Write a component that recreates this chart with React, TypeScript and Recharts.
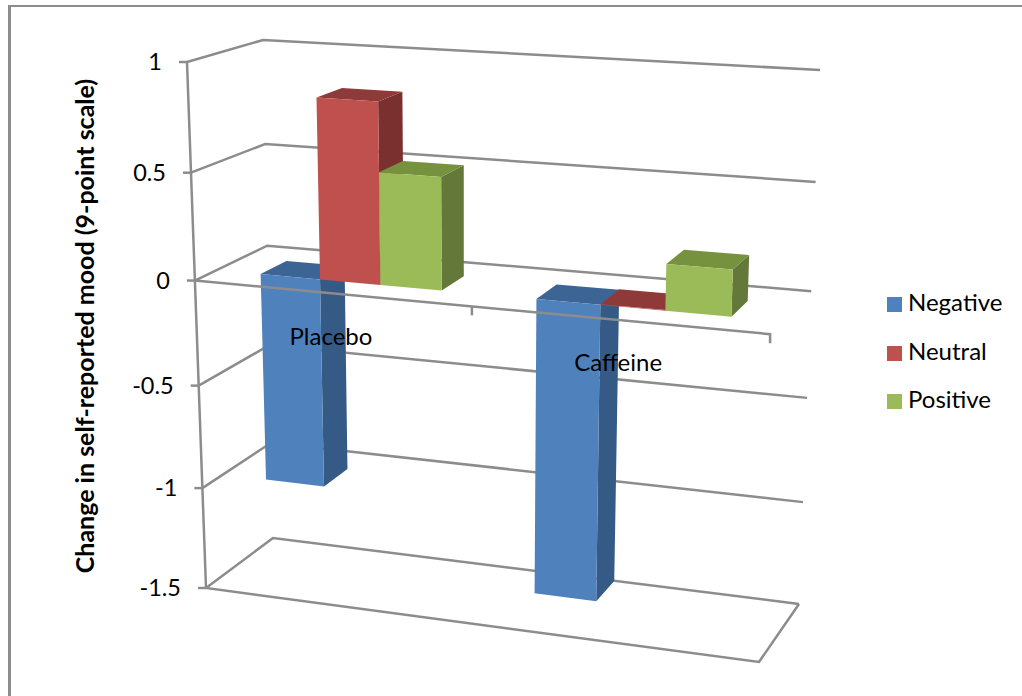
import React from 'react';
import {
  BarChart,
  Bar,
  XAxis,
  YAxis,
  CartesianGrid,
  Legend,
  ReferenceLine,
} from 'recharts';

const categories = ['Placebo', 'Caffeine'];
const negativeValues = [-1.0, -1.4];
const neutralValues = [0.84, 0.003];
const positiveValues = [0.52, 0.21];
const valueTicks = [1, 0.5, 0, -0.5, -1, -1.5];

const chartData = categories.map((name, i) => ({
  name,
  Negative: negativeValues[i],
  Neutral: neutralValues[i],
  Positive: positiveValues[i],
}));

const WIDTH = 1022;
const HEIGHT = 696;
const PLOT = { left: 100, top: 60, width: 722, height: 536 };
const GRID_COLOR = '#8c8c8c';
const FONT = 'Lato, sans-serif';

type Pt = [number, number];

// unit square -> quad, corners clockwise from top left
const makeHomography = ([p0, p1, p2, p3]: Pt[]) => {
  const dx1 = p1[0] - p2[0];
  const dx2 = p3[0] - p2[0];
  const sx = p0[0] - p1[0] + p2[0] - p3[0];
  const dy1 = p1[1] - p2[1];
  const dy2 = p3[1] - p2[1];
  const sy = p0[1] - p1[1] + p2[1] - p3[1];
  const den = dx1 * dy2 - dx2 * dy1;
  const g = (sx * dy2 - dx2 * sy) / den;
  const h = (dx1 * sy - sx * dy1) / den;
  const a = p1[0] - p0[0] + g * p1[0];
  const b = p3[0] - p0[0] + h * p3[0];
  const d = p1[1] - p0[1] + g * p1[1];
  const e = p3[1] - p0[1] + h * p3[1];
  return (u: number, v: number): Pt => {
    const q = g * u + h * v + 1;
    return [(a * u + b * v + p0[0]) / q, (d * u + e * v + p0[1]) / q];
  };
};

// front and back faces of the 3D box
const frontFace = makeHomography([[187, 62], [778, 100], [759, 662], [206, 588]]);
const backFace = makeHomography([[263, 40], [820, 70], [799, 604], [273, 538]]);

// flat chart coordinates + depth (0 front, 1 back) -> screen
const project = (x: number, y: number, depth: number): Pt => {
  const u = (x - PLOT.left) / PLOT.width;
  const v = (y - PLOT.top) / PLOT.height;
  const f = frontFace(u, v);
  const b = backFace(u, v);
  return [f[0] + (b[0] - f[0]) * depth, f[1] + (b[1] - f[1]) * depth];
};

const toPoints = (pts: Pt[]) => pts.map((p) => `${p[0]},${p[1]}`).join(' ');

const BAR_FRONT = 0.3;
const BAR_BACK = 0.67;

const Bar3D = (side: string, top: string) => (props: any) => {
  const { x, y, width, height, fill } = props;
  const y0 = Math.min(y, y + height);
  const y1 = Math.max(y, y + height);
  const x1 = x + width;
  const fTL = project(x, y0, BAR_FRONT);
  const fTR = project(x1, y0, BAR_FRONT);
  const fBR = project(x1, y1, BAR_FRONT);
  const fBL = project(x, y1, BAR_FRONT);
  const bTL = project(x, y0, BAR_BACK);
  const bTR = project(x1, y0, BAR_BACK);
  const bBR = project(x1, y1, BAR_BACK);
  return (
    <g>
      <polygon points={toPoints([fTR, bTR, bBR, fBR])} fill={side} />
      <polygon points={toPoints([fTL, bTL, bTR, fTR])} fill={top} />
      <polygon points={toPoints([fTL, fTR, fBR, fBL])} fill={fill} />
    </g>
  );
};

const line = (pts: Pt[]) => (
  <polyline points={toPoints(pts)} fill="none" stroke={GRID_COLOR} strokeWidth={2.5} />
);

// wall and floor lines for one value
const GridLine = (props: any) => {
  const { y1, index } = props;
  const left = PLOT.left;
  const right = PLOT.left + PLOT.width;
  const bottom = PLOT.top + PLOT.height;
  const isFloor = Math.abs(y1 - bottom) < 1;
  return (
    <g key={`grid-${index}`}>
      {line([project(left, y1, 0), project(left, y1, 1), project(right, y1, 1)])}
      {isFloor &&
        line([
          project(left, PLOT.top, 0),
          project(left, bottom, 0),
          project(right, bottom, 0),
          project(right, bottom, 1),
        ])}
    </g>
  );
};

const ValueTick = (props: any) => {
  const { y, payload } = props;
  const [px, py] = project(PLOT.left, y, 0);
  return (
    <g>
      {line([[px - 8, py], [px, py]])}
      <text x={px - 25} y={py} dy="0.35em" textAnchor="end" fontSize={23.5} fontFamily={FONT} fill="#000">
        {payload.value}
      </text>
    </g>
  );
};

const zeroY = PLOT.top + PLOT.height * (1 / 2.5);

const CategoryTick = (props: any) => {
  const { x, payload } = props;
  const [px, py] = project(x, zeroY, 0);
  return (
    <text x={px} y={py + 43} dy="0.35em" textAnchor="middle" fontSize={24} fontFamily={FONT} fill="#000">
      {payload.value}
    </text>
  );
};

// category axis sits on top of the bars
const ZeroAxis = () => {
  const left = PLOT.left;
  const mid = left + PLOT.width / 2;
  const right = left + PLOT.width;
  const pm = project(mid, zeroY, 0);
  const pr = project(right, zeroY, 0);
  return (
    <g>
      {line([project(left, zeroY, 0), pr, [pr[0], pr[1] + 9]])}
      {line([pm, [pm[0], pm[1] + 9]])}
    </g>
  );
};

const App = () => {
  return (
    <div
      style={{
        position: 'absolute',
        left: 0,
        top: 0,
        width: WIDTH,
        height: HEIGHT,
        background: '#fff',
        overflow: 'hidden',
      }}
    >
      {/* chart area border, only top and left are in view */}
      <div
        style={{
          position: 'absolute',
          left: 8,
          top: 5,
          width: 1040,
          height: 720,
          borderTop: '2px solid #8c8c8c',
          borderLeft: '3px solid #8c8c8c',
        }}
      />
      <BarChart
        width={WIDTH}
        height={HEIGHT}
        data={chartData}
        margin={{
          top: PLOT.top,
          left: PLOT.left - 1,
          right: WIDTH - PLOT.left - PLOT.width,
          bottom: HEIGHT - PLOT.top - PLOT.height - 1,
        }}
        barCategoryGap="16.67%"
        barGap={0}
        style={{ position: 'absolute', left: 0, top: 0 }}
      >
        <CartesianGrid horizontal={GridLine} vertical={false} />
        <YAxis
          width={1}
          domain={[-1.5, 1]}
          ticks={valueTicks}
          interval={0}
          axisLine={false}
          tickLine={false}
          tick={ValueTick}
        />
        <Bar dataKey="Negative" fill="#4f81bd" shape={Bar3D('#355a85', '#3c6494')} isAnimationActive={false} />
        <Bar dataKey="Neutral" fill="#c0504d" shape={Bar3D('#7a302e', '#8e3a38')} isAnimationActive={false} />
        <Bar dataKey="Positive" fill="#9bbb59" shape={Bar3D('#64783a', '#76923f')} isAnimationActive={false} />
        <ReferenceLine y={0} shape={ZeroAxis} />
        <XAxis
          dataKey="name"
          height={1}
          axisLine={false}
          tickLine={false}
          tick={CategoryTick}
        />
        <Legend
          layout="vertical"
          align="center"
          verticalAlign="middle"
          iconType="square"
          iconSize={15}
          formatter={(value: string) => (
            <span style={{ color: '#000', marginLeft: 2 }}>{value}</span>
          )}
          wrapperStyle={{
            left: 887,
            top: 278,
            width: 135,
            fontSize: 24,
            lineHeight: '48.5px',
            fontFamily: FONT,
            textAlign: 'left',
          }}
        />
      </BarChart>
      <svg width={WIDTH} height={HEIGHT} style={{ position: 'absolute', left: 0, top: 0, pointerEvents: 'none' }}>
        <text
          transform="translate(85 326) rotate(-90)"
          textAnchor="middle"
          dy="0.35em"
          fontSize={25}
          fontWeight={700}
          fontFamily={FONT}
          fill="#000"
        >
          Change in self-reported mood (9-point scale)
        </text>
      </svg>
    </div>
  );
};

export default App;
